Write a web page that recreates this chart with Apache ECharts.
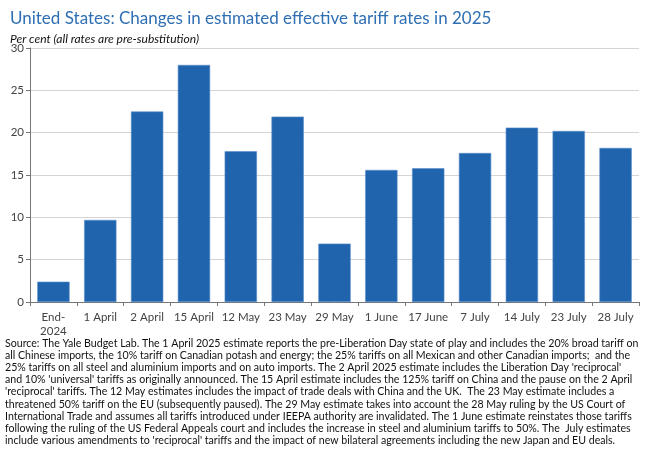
<!DOCTYPE html>
<html>
<head>
<meta charset="utf-8">
<script src="https://cdn.jsdelivr.net/npm/echarts@6/dist/echarts.min.js"></script>
<style>
  html, body { margin: 0; padding: 0; background: #fff; }
  #chart { width: 650px; height: 455px; }
</style>
</head>
<body>
<div id="chart"></div>
<script>
const categories = ['End-\n2024', '1 April', '2 April', '15 April', '12 May', '23 May', '29 May',
  '1 June', '17 June', '7 July', '14 July', '23 July', '28 July'];
const tariffRates = [2.4, 9.7, 22.5, 28.0, 17.8, 21.9, 6.9, 15.6, 15.8, 17.6, 20.6, 20.2, 18.2];
const yTicks = [0, 5, 10, 15, 20, 25, 30];

const footnoteLines = [
  "Source: The Yale Budget Lab. The 1 April 2025 estimate reports the pre-Liberation Day state of play and includes the 20% broad tariff on",
  "all Chinese imports, the 10% tariff on Canadian potash and energy; the 25% tariffs on all Mexican and other Canadian imports;  and the",
  "25% tariffs on all steel and aluminium imports and on auto imports. The 2 April 2025 estimate includes the Liberation Day 'reciprocal'",
  "and 10% 'universal' tariffs as originally announced. The 15 April estimate includes the 125% tariff on China and the pause on the 2 April",
  "'reciprocal' tariffs. The 12 May estimates includes the impact of trade deals with China and the UK.  The 23 May estimate includes a",
  "threatened 50% tariff on the EU (subsequently paused). The 29 May estimate takes into account the 28 May ruling by the US Court of",
  "International Trade and assumes all tariffs introduced under IEEPA authority are invalidated. The 1 June estimate reinstates those tariffs",
  "following the ruling of the US Federal Appeals court and includes the increase in steel and aluminium tariffs to 50%. The  July estimates",
  "include various amendments to 'reciprocal' tariffs and the impact of new bilateral agreements including the new Japan and EU deals."
];

const chart = echarts.init(document.getElementById('chart'));

const option = {
  animation: false,
  title: [
    {
      text: 'United States: Changes in estimated effective tariff rates in 2025',
      left: 5, top: 5,
      textStyle: { color: '#2f6fb3', fontSize: 17, fontWeight: 'normal', fontFamily: 'Lato' }
    },
    {
      text: 'Per cent (all rates are pre-substitution)',
      left: 5, top: 28,
      textStyle: { color: '#111', fontSize: 12, fontStyle: 'italic', fontWeight: 'normal', fontFamily: 'Lato' }
    }
  ],
  grid: { left: 30, right: 11, top: 48, bottom: 153, containLabel: false },
  xAxis: {
    type: 'category',
    data: categories,
    axisLine: { lineStyle: { color: '#777', width: 1 } },
    axisTick: { show: true, alignWithLabel: false, length: 4, lineStyle: { color: '#777' } },
    axisLabel: { color: '#444', fontSize: 11.5, fontFamily: 'Lato', margin: 8, interval: 0, lineHeight: 14 }
  },
  yAxis: {
    type: 'value',
    min: yTicks[0],
    max: yTicks[yTicks.length - 1],
    interval: 5,
    axisLine: { show: true, lineStyle: { color: '#777', width: 1 } },
    axisTick: { show: true, length: 4, lineStyle: { color: '#777' } },
    axisLabel: { color: '#444', fontSize: 11.5, fontFamily: 'Lato', margin: 6 },
    splitLine: { lineStyle: { color: '#d4d4d4', width: 1 } }
  },
  series: [
    {
      name: 'Effective tariff rate',
      type: 'bar',
      data: tariffRates,
      barWidth: '69%',
      itemStyle: { color: '#1f64ad', borderColor: '#5a8fcc', borderWidth: 0.6 }
    }
  ],
  graphic: [
    {
      type: 'text',
      left: 5,
      top: 337,
      style: {
        text: footnoteLines.join('\n'),
        fill: '#111',
        font: '10.6px Lato',
        lineHeight: 12.2
      }
    }
  ]
};

chart.setOption(option);
</script>
</body>
</html>
